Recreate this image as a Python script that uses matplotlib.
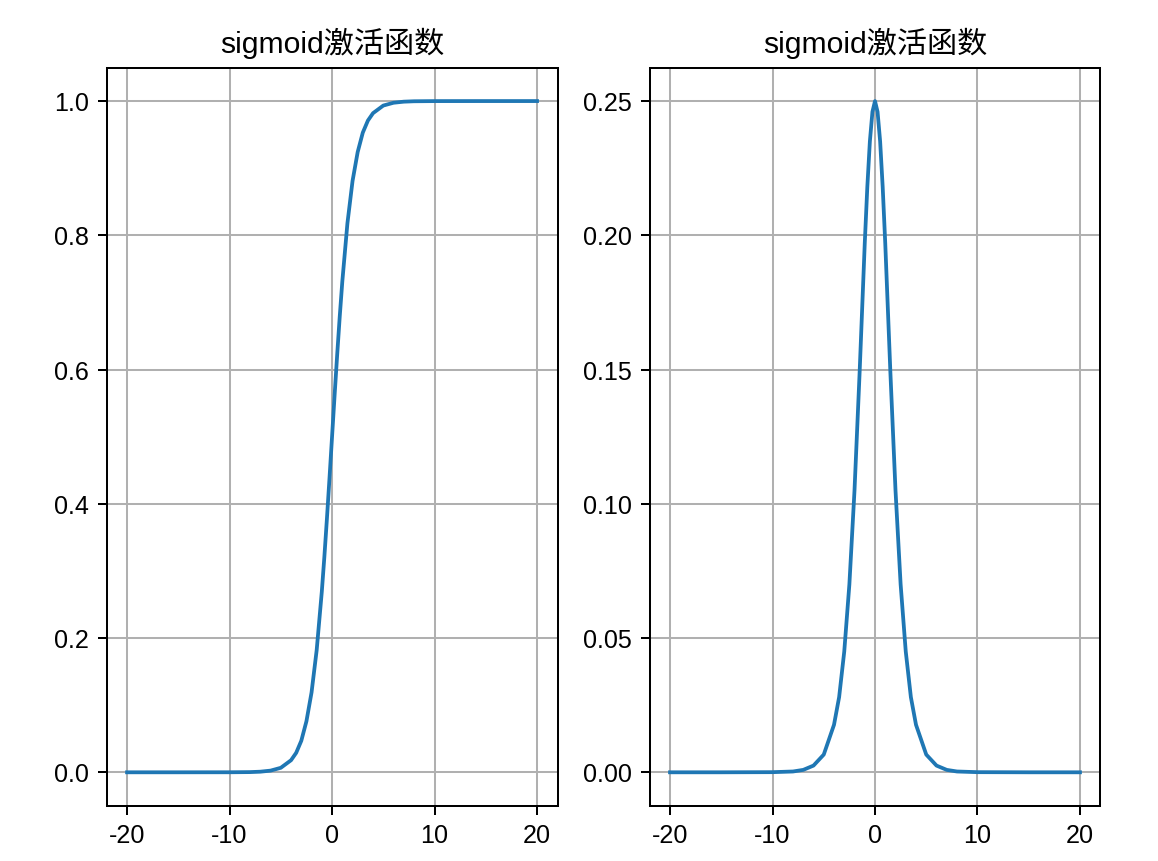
import matplotlib
matplotlib.use("Agg")
import matplotlib.pyplot as plt

plt.rcParams['font.family'] = ['Liberation Sans', 'Noto Sans CJK SC', 'DejaVu Sans']
plt.rcParams['axes.unicode_minus'] = False

x = [-20, -15, -10, -8, -7, -6, -5, -4, -3.5, -3, -2.5, -2, -1.5, -1, -0.75, -0.5, -0.25, 0,
     0.25, 0.5, 0.75, 1, 1.5, 2, 2.5, 3, 3.5, 4, 5, 6, 7, 8, 10, 15, 20]
sig = [0.0, 0.0, 0.00005, 0.0003, 0.0009, 0.0025, 0.0067, 0.018, 0.029, 0.047, 0.076, 0.119, 0.182, 0.269, 0.321, 0.378, 0.438, 0.5,
       0.562, 0.622, 0.679, 0.731, 0.818, 0.881, 0.924, 0.953, 0.971, 0.982, 0.9933, 0.9975, 0.9991, 0.9997, 0.99995, 1.0, 1.0]
dsig = [0.0, 0.0, 0.00005, 0.0003, 0.0009, 0.0025, 0.0066, 0.0177, 0.028, 0.045, 0.070, 0.105, 0.149, 0.197, 0.218, 0.235, 0.246, 0.25,
        0.246, 0.235, 0.218, 0.197, 0.149, 0.105, 0.070, 0.045, 0.028, 0.0177, 0.0066, 0.0025, 0.0009, 0.0003, 0.00005, 0.0, 0.0]
title = 'sigmoid激活函数'

fig, axes = plt.subplots(1, 2, figsize=(6.4, 4.76), dpi=181)
fig.subplots_adjust(left=0.092, right=0.95, top=0.921, bottom=0.064, wspace=0.204)
for ax, y in zip(axes, [sig, dsig]):
    ax.plot(x, y, color='#1f77b4')
    ax.set_title(title)
    ax.grid(True)
    ax.set_xticks([-20, -10, 0, 10, 20])
fig.savefig('out.png')
